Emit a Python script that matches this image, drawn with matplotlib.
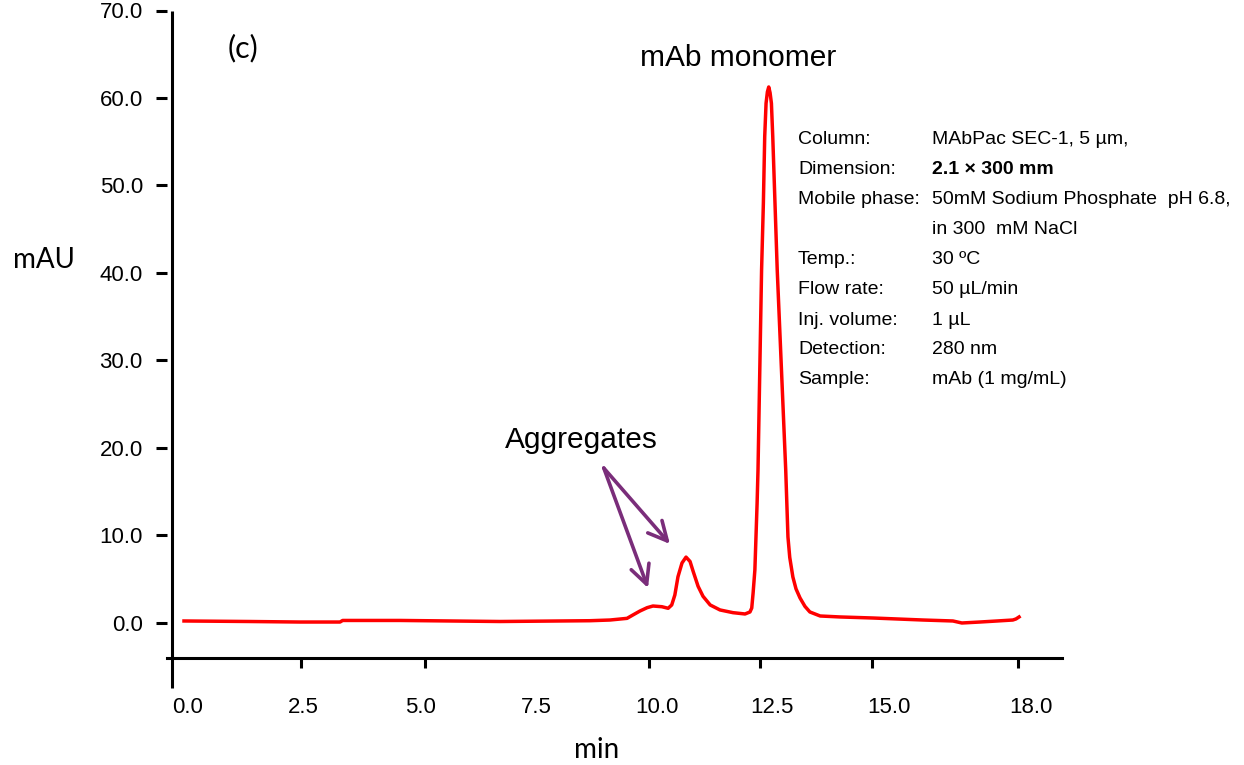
import matplotlib
matplotlib.use("Agg")
import matplotlib.pyplot as plt
from matplotlib.ticker import FixedLocator, NullFormatter

# chromatogram (min, mAU)
tiempo = [-0.40, 1.07, 2.19, 3.09, 3.15, 4.43, 5.55, 6.67, 8.68, 9.13, 9.51, 9.64,
          9.80, 9.96, 10.09, 10.29, 10.43, 10.51, 10.58, 10.65, 10.74, 10.83,
          10.92, 10.99, 11.10, 11.21, 11.37, 11.59, 11.88, 12.15, 12.26, 12.30,
          12.33, 12.37, 12.42, 12.44, 12.52, 12.56, 12.59, 12.62, 12.65, 12.68,
          12.71, 12.74, 12.77, 12.82, 12.87, 13.06, 13.11, 13.15, 13.22, 13.29,
          13.38, 13.49, 13.60, 13.83, 14.27, 15.01, 16.13, 16.80, 17.00, 17.40,
          17.79, 18.14, 18.21, 18.28]
senal = [0.23, 0.17, 0.11, 0.11, 0.29, 0.29, 0.23, 0.17, 0.26, 0.34, 0.53, 0.91,
         1.37, 1.75, 1.94, 1.86, 1.68, 2.06, 3.20, 5.29, 6.86, 7.53,
         7.03, 5.89, 4.19, 3.05, 2.06, 1.49, 1.18, 1.03, 1.26, 1.71,
         3.40, 6.06, 13.71, 17.49, 40.34, 47.97, 55.58, 59.39, 60.70, 61.26,
         60.60, 59.39, 55.58, 47.97, 40.34, 17.49, 9.83, 7.50, 5.26, 3.90,
         2.86, 1.90, 1.26, 0.80, 0.69, 0.57, 0.34, 0.23, 0.0, 0.11,
         0.23, 0.34, 0.46, 0.69]

yticks = [0, 10, 20, 30, 40, 50, 60, 70]
ytick_labels = ["0.0", "10.0", "20.0", "30.0", "40.0", "50.0", "60.0", "70.0"]
xtick_labels = ["0.0", "2.5", "5.0", "7.5", "10.0", "12.5", "15.0", "18.0"]
xlabel_pos = [-0.31, 2.28, 4.88, 7.49, 10.18, 12.75, 15.37, 18.55]
xmark_pos = [2.21, 4.99, 7.49, 10.0, 12.48, 14.99, 18.26]

info_keys = ["Column:", "Dimension:", "Mobile phase:", "", "Temp.:", "Flow rate:",
             "Inj. volume:", "Detection:", "Sample:"]
info_vals = ["MAbPac SEC-1, 5 µm,", "2.1 × 300 mm", "50mM Sodium Phosphate  pH 6.8,",
             "in 300  mM NaCl", "30 ºC", "50 µL/min", "1 µL", "280 nm", "mAb (1 mg/mL)"]

W, H = 1244, 765


def px(x, y):
    return x / W, 1 - y / H


fig = plt.figure(figsize=(W / 100, H / 100), dpi=100)
ax = fig.add_axes([167 / W, 1 - 688 / H, (1062 - 167) / W, (688 - 10.5) / H])

ax.plot(tiempo, senal, color="#ff0000", lw=2.5, solid_joinstyle="round")

ax.set_xlim(-0.78, 19.24)
ax.set_ylim(-7.43, 70)

for s in ["top", "right", "left"]:
    ax.spines[s].set_visible(False)
ax.spines["bottom"].set_position(("data", -4.0))
ax.spines["bottom"].set_linewidth(2.2)
ax.vlines(-0.67, -7.43, 70, color="black", lw=2.2, clip_on=False)

ax.set_yticks(yticks)
ax.set_yticklabels(ytick_labels, fontsize=16, family="Liberation Sans")
ax.tick_params(axis="y", length=8, width=2.2, pad=9.4)

ax.xaxis.set_major_locator(FixedLocator(xlabel_pos))
ax.set_xticklabels(xtick_labels, fontsize=16, family="Liberation Sans")
ax.xaxis.set_minor_locator(FixedLocator(xmark_pos))
ax.xaxis.set_minor_formatter(NullFormatter())
ax.tick_params(axis="x", which="major", length=0, pad=28)
ax.tick_params(axis="x", which="minor", length=7.2, width=2.2)

fig.text(*px(44, 260), "mAU", fontsize=20, family="Lato", ha="center", va="center")
fig.text(*px(597, 750), "min", fontsize=20, family="Lato", ha="center", va="center")
fig.text(*px(243, 48), "(c)", fontsize=22, family="Lato", ha="center", va="center")
fig.text(*px(738, 58), "mAb monomer", fontsize=21.5, family="Liberation Sans",
         ha="center", va="center")
ax.text(8.50, 20.9, "Aggregates", fontsize=21.5, family="Liberation Sans",
        ha="center", va="center")

morado = "#7a2d7a"
for cabeza in [(9.98, 4.0), (10.47, 9.03)]:
    ax.annotate("", xy=cabeza, xytext=(8.99, 17.71),
                arrowprops=dict(arrowstyle="->", color=morado, lw=2.6,
                                mutation_scale=34, shrinkA=0, shrinkB=0))

for i, (k, v) in enumerate(zip(info_keys, info_vals)):
    y = 140 + 30 * i
    fig.text(*px(798, y), k, fontsize=14, family="Liberation Sans", va="center")
    fig.text(*px(932, y), v, fontsize=14, family="Liberation Sans", va="center",
             weight="bold" if i == 1 else "normal")

fig.savefig("out.png", dpi=100)
